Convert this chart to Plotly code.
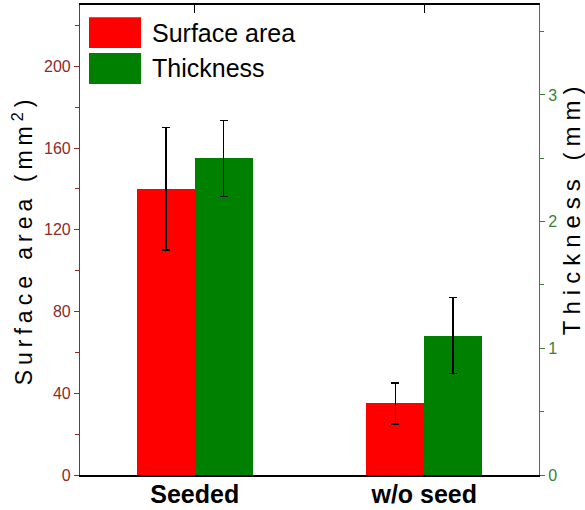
import plotly.graph_objects as go

# Sample groups and measured values
categories = ["Seeded", "w/o seed"]
series_names = ["Surface area", "Thickness"]
series_colors = ["#FF0000", "#008000"]

surface_area = [140, 35]          # mm^2
surface_area_err = [30, 10]
thickness = [2.5, 1.1]            # mm
thickness_err = [0.3, 0.3]

left_ticks = [0, 40, 80, 120, 160, 200]
right_ticks = [0, 1, 2, 3]

FONT = "Arial, Liberation Sans, sans-serif"
LEFT_COLOR = "#8E2A2A"
RIGHT_COLOR = "#3A7F3A"
BAR_W = 0.252

fig = go.Figure()

fig.add_trace(go.Bar(
    x=categories, y=surface_area, name=series_names[0],
    marker=dict(color=series_colors[0], line=dict(width=0)),
    width=BAR_W, offset=-BAR_W,
    error_y=dict(type="data", array=surface_area_err, color="black",
                 thickness=1.5, width=4),
    xaxis="x", yaxis="y", showlegend=False,
))
fig.add_trace(go.Bar(
    x=categories, y=thickness, name=series_names[1],
    marker=dict(color=series_colors[1], line=dict(width=0)),
    width=BAR_W, offset=0,
    error_y=dict(type="data", array=thickness_err, color="black",
                 thickness=1.5, width=4),
    xaxis="x2", yaxis="y2", showlegend=False,
))

# Legend drawn as large swatches with labels in the upper-left corner
sw_x0, sw_x1 = 0.0196, 0.133
rows = [(0.9085, 0.974), (0.832, 0.898)]
for (y0, y1), name, color in zip(rows, series_names, series_colors):
    fig.add_shape(type="rect", xref="paper", yref="paper",
                  x0=sw_x0, x1=sw_x1, y0=y0, y1=y1,
                  fillcolor=color, line=dict(width=0))
    fig.add_annotation(xref="paper", yref="paper", x=0.153, y=(y0 + y1) / 2,
                       text=name, showarrow=False, xanchor="left",
                       yanchor="middle",
                       font=dict(family=FONT, size=25, color="black"))

# Right-hand axis title, placed a little above the axis centre
fig.add_annotation(xref="paper", yref="paper", x=1.07, y=0.568,
                   text="Thickness (mm)", textangle=-90, showarrow=False,
                   xanchor="center", yanchor="middle",
                   font=dict(family=FONT, size=24, color="black"),
                   name="thickness_title")

fig.update_layout(
    width=585, height=510,
    margin=dict(l=80, r=46, t=5, b=35),
    paper_bgcolor="white", plot_bgcolor="white",
    bargap=0,
    xaxis=dict(
        type="category", range=[-0.5, 1.5], automargin=False,
        showline=True, linecolor="black", linewidth=1.5, mirror=True,
        ticks="", showgrid=False, zeroline=False, ticklabelstandoff=-4,
        tickfont=dict(family=FONT, size=25, color="black", weight="bold"),
    ),
    xaxis2=dict(
        type="category", range=[-0.5, 1.5], overlaying="x", side="top",
        anchor="y2", matches="x", automargin=False,
        showline=False, showticklabels=False, showgrid=False,
        ticks="inside", ticklen=8, tickcolor="black", tickwidth=1,
        tickmode="array", tickvals=categories,
    ),
    yaxis=dict(
        range=[0, 230], tickmode="array", tickvals=left_ticks,
        automargin=False,
        showline=True, linecolor=LEFT_COLOR, linewidth=1.2,
        ticks="outside", ticklen=5, tickcolor=LEFT_COLOR, tickwidth=1,
        minor=dict(dtick=20, ticks="outside", ticklen=4,
                   tickcolor=LEFT_COLOR, showgrid=False),
        showgrid=False, zeroline=False,
        tickfont=dict(family=FONT, size=16, color=LEFT_COLOR),
        title=dict(text="Surface area (mm<sup>2</sup>)", standoff=4,
                   font=dict(family=FONT, size=23, color="black")),
    ),
    yaxis2=dict(
        range=[0, 3.71], overlaying="y", side="right", anchor="x",
        automargin=False,
        tickmode="array", tickvals=right_ticks,
        showline=True, linecolor=RIGHT_COLOR, linewidth=1.2,
        ticks="outside", ticklen=5, tickcolor=RIGHT_COLOR, tickwidth=1,
        minor=dict(dtick=0.5, ticks="outside", ticklen=4,
                   tickcolor=RIGHT_COLOR, showgrid=False),
        showgrid=False, zeroline=False,
        tickfont=dict(family=FONT, size=16, color=RIGHT_COLOR),
    ),
)

# Widen the letter spacing of the axis titles
spacing_js = """
document.querySelectorAll('.ytitle').forEach(function(t){
  t.style.letterSpacing = '5px';
});
document.querySelectorAll('.annotation-text').forEach(function(t){
  if (t.textContent.indexOf('Thickness (') === 0) {
    t.style.letterSpacing = '6px';
  }
});
"""
fig.write_html("out.html", post_script=spacing_js)
